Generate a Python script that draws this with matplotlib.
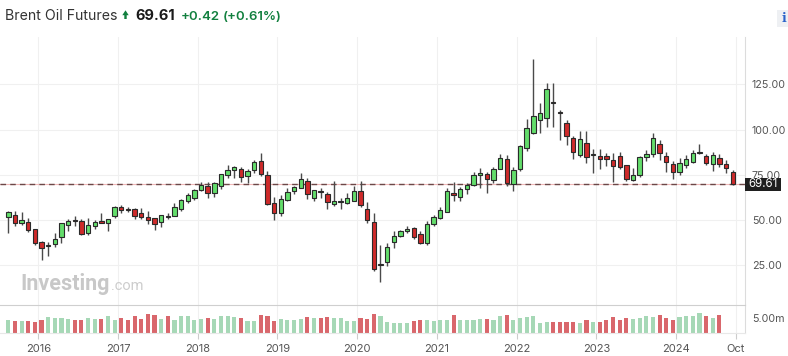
import matplotlib
matplotlib.use("Agg")
import matplotlib.pyplot as plt
import numpy as np
import pandas as pd
from matplotlib.patches import Rectangle, Polygon

# ---------------- data (monthly Brent candles, Aug 2015 - Sep 2024) ----------------
months = pd.date_range("2015-08-01", periods=110, freq="MS")

opens = [51.7, 52.6, 48.3, 49.0, 45.0, 37.5, 35.4, 36.7, 40.3, 47.0, 49.7, 49.6,
         43.0, 46.7, 49.6, 48.4, 52.0, 57.0, 55.9, 56.0, 53.7, 51.6, 51.0, 48.9,
         52.0, 52.2, 55.9, 60.5, 62.3, 66.4, 68.8, 65.1, 68.9, 74.7, 77.6, 78.2,
         74.3, 77.6, 82.6, 74.6, 59.6, 54.0, 61.1, 66.0, 67.8, 71.6, 62.0, 65.7,
         64.2, 58.7, 60.0, 59.2, 60.5, 66.2, 56.1, 48.7, 25.3, 26.6, 37.5, 41.3,
         43.6, 45.4, 42.0, 37.0, 47.8, 51.0, 54.6, 64.6, 62.8, 67.0, 69.3, 74.8,
         75.3, 71.8, 78.2, 83.5, 69.9, 78.1, 89.6, 98.2, 105.3, 106.2, 115.4, 109.8,
         103.7, 95.2, 85.9, 92.4, 86.0, 85.5, 85.4, 83.0, 85.5, 80.1, 72.0, 74.9,
         85.0, 86.4, 92.0, 85.3, 80.9, 76.6, 80.4, 82.2, 86.8, 85.3, 80.9, 84.1,
         80.9, 76.3]
highs = [55.0, 54.8, 54.4, 51.0, 45.2, 38.4, 37.6, 43.0, 48.5, 50.5, 52.2, 50.5,
         51.0, 49.9, 54.0, 50.5, 57.9, 58.4, 57.3, 56.8, 56.8, 55.0, 51.2, 52.9,
         53.7, 59.5, 61.7, 64.7, 67.1, 71.2, 70.8, 71.2, 75.5, 80.4, 80.0, 79.5,
         78.2, 83.3, 86.8, 77.0, 62.5, 63.8, 67.7, 68.7, 75.8, 73.2, 66.8, 67.5,
         65.3, 71.6, 62.3, 64.6, 68.8, 71.7, 60.1, 54.0, 36.0, 37.0, 43.6, 44.6,
         46.5, 46.0, 43.9, 49.2, 52.5, 57.4, 67.7, 71.2, 68.0, 70.3, 76.7, 78.5,
         76.4, 79.5, 86.5, 86.0, 79.0, 91.7, 105.6, 139.0, 114.8, 125.6, 125.6, 111.0,
         105.2, 96.4, 99.0, 99.2, 89.0, 89.0, 87.2, 87.0, 87.4, 80.5, 78.5, 85.2,
         88.7, 97.9, 94.2, 87.4, 82.6, 84.4, 85.9, 88.7, 92.0, 86.3, 87.7, 86.5,
         83.1, 77.6]
lows = [42.8, 46.6, 47.0, 43.5, 36.0, 27.9, 30.0, 35.0, 37.0, 43.9, 46.7, 41.5,
        41.6, 45.1, 48.0, 44.0, 51.0, 53.6, 54.5, 50.3, 50.6, 47.6, 44.5, 46.3,
        50.5, 52.0, 55.1, 59.5, 61.1, 66.1, 62.0, 62.5, 66.9, 73.4, 73.1, 71.2,
        70.6, 76.1, 74.4, 58.4, 50.0, 52.2, 60.6, 64.4, 67.7, 61.5, 60.5, 62.3,
        56.0, 57.7, 56.2, 59.0, 60.4, 57.3, 48.4, 21.6, 15.9, 24.3, 34.3, 40.5,
        43.0, 39.4, 36.6, 36.2, 46.5, 50.4, 54.4, 60.7, 60.3, 64.5, 69.0, 67.5,
        65.0, 70.6, 78.0, 68.6, 66.0, 77.1, 88.0, 97.4, 97.9, 101.6, 101.6, 94.2,
        91.4, 83.7, 85.0, 81.4, 75.8, 78.0, 79.7, 70.8, 78.0, 71.4, 71.6, 74.0,
        82.5, 84.7, 83.1, 76.6, 72.6, 74.8, 78.5, 81.3, 86.3, 80.4, 77.2, 79.1,
        75.8, 69.2]
closes = [54.4, 48.2, 49.9, 44.5, 37.3, 34.7, 35.9, 39.5, 48.3, 49.6, 49.3, 42.2,
          47.2, 49.0, 48.2, 50.5, 57.3, 55.6, 55.6, 52.3, 51.5, 50.0, 47.6, 52.6,
          51.8, 57.3, 61.0, 63.8, 66.6, 69.2, 65.1, 70.3, 75.2, 77.4, 79.1, 74.0,
          77.0, 82.2, 75.3, 58.8, 53.8, 61.4, 65.7, 68.1, 72.5, 64.5, 66.6, 65.5,
          60.1, 60.5, 60.3, 62.3, 66.0, 58.3, 50.0, 22.8, 25.7, 35.2, 41.2, 43.6,
          45.0, 40.8, 37.0, 47.7, 51.5, 55.5, 66.0, 64.0, 67.0, 69.3, 74.8, 75.8,
          72.5, 78.2, 84.1, 70.6, 77.6, 90.9, 100.7, 107.5, 109.0, 122.4, 114.5, 109.4,
          96.2, 87.4, 94.6, 85.0, 86.3, 83.9, 83.8, 79.7, 79.4, 72.7, 74.8, 85.0,
          86.5, 95.1, 86.9, 82.2, 76.6, 81.6, 83.8, 86.8, 87.7, 81.6, 85.9, 80.7,
          78.5, 69.61]
volumes_m = [4.22, 3.89, 4.11, 4.00, 3.78, 4.44, 5.33, 5.00, 5.00, 4.67, 4.44, 4.44,
             5.00, 4.78, 4.78, 5.56, 4.44, 5.00, 4.44, 5.56, 4.78, 6.44, 5.89, 4.67,
             5.56, 4.22, 5.78, 5.56, 4.44, 4.67, 5.00, 4.67, 5.56, 5.56, 5.33, 5.00,
             4.11, 4.11, 6.11, 5.56, 3.89, 4.67, 4.22, 4.22, 4.67, 5.33, 5.00, 5.00,
             5.33, 5.00, 5.00, 4.11, 3.89, 5.00, 4.78, 6.44, 5.78, 3.56, 3.33, 3.33,
             3.33, 3.89, 4.22, 4.22, 3.89, 4.44, 4.44, 5.89, 4.44, 4.44, 4.44, 4.78,
             4.67, 4.44, 5.56, 5.89, 4.44, 5.00, 5.33, 5.56, 3.33, 3.56, 3.56, 3.56,
             3.56, 3.56, 3.33, 4.22, 3.56, 3.56, 4.22, 5.33, 4.44, 5.00, 4.67, 5.00,
             5.56, 5.33, 6.11, 5.00, 4.22, 5.33, 5.56, 5.56, 6.60, 5.56, 5.00, 6.10,
             np.nan, np.nan]
last_price = 69.61
price_ticks = [25, 50, 75, 100, 125]
volume_ticks = [5]

# ---------------- figure ----------------
W, H = 788, 356
fig = plt.figure(figsize=(W / 100, H / 100), dpi=100)
fig.patch.set_facecolor("white")
FONT = ["Inter", "Roboto", "DejaVu Sans"]
plt.rcParams["font.family"] = FONT

def fx(px):
    return px / W

def fy(py):
    return 1 - py / H

ax = fig.add_axes([0, fy(305), fx(745), (305 - 37) / H])
axv = fig.add_axes([0, fy(333), fx(745), (333 - 305) / H], sharex=ax)

x = np.arange(len(months))
o = np.array(opens); h = np.array(highs); l = np.array(lows); c = np.array(closes)
up = c >= o

GREEN = "#63dd6b"
RED = "#cf2a2a"
EDGE = "#2a2a2a"

# wicks
ax.vlines(x, l, h, color="#4a4a4a", lw=1.0, zorder=2)
# bodies
bottom = np.minimum(o, c)
height = np.maximum(np.abs(c - o), 0.35)
ax.bar(x, height, bottom=bottom, width=0.66,
       color=np.where(up, GREEN, RED), edgecolor=EDGE, linewidth=0.8, zorder=3)

# last price dashed line
ax.axhline(last_price, color="#f0b8b8", lw=0.8, zorder=1.4)
ax.axhline(last_price, color="#6b4848", lw=1.0, ls=(0, (4, 3)), zorder=1.5)

ax.set_ylim(2.9, 151.2)
ax.set_xlim(-1.25, 110.85)

# year grid positions (start of January)
year_pos = [xi - 0.5 for xi, m in zip(x, months) if m.month == 1]
year_lab = [str(m.year) for m in months if m.month == 1]

ax.set_xticks(year_pos)
ax.set_yticks(price_ticks)
ax.set_yticklabels([f"{v:.2f}" for v in price_ticks])
ax.yaxis.tick_right()
ax.tick_params(axis="y", length=0, pad=5, labelsize=7.7, labelcolor="#555555")
ax.tick_params(axis="x", length=0, labelbottom=False)
ax.grid(True, color="#f0f0f0", lw=0.8, zorder=0)
ax.set_axisbelow(True)
for s in ["top", "left", "bottom"]:
    ax.spines[s].set_visible(False)
ax.spines["right"].set_color("#dcdcdc")

# volume
vol = np.array(volumes_m)
axv.bar(x, vol, width=0.62, color=np.where(up, "#a6d8b6", "#d9676c"), zorder=2)
axv.set_ylim(0, 9.33)
axv.set_yticks(volume_ticks)
axv.set_yticklabels([f"{v:.2f}m" for v in volume_ticks])
axv.yaxis.tick_right()
axv.tick_params(axis="y", length=0, pad=5, labelsize=7.7, labelcolor="#555555")
axv.set_xticks(year_pos + [len(months) - 0.5])
axv.set_xticklabels(year_lab + ["Oct"])
axv.tick_params(axis="x", length=4, color="#cccccc", pad=4, labelsize=8,
                labelcolor="#555555")
axv.grid(True, axis="x", color="#f0f0f0", lw=0.8, zorder=0)
axv.set_axisbelow(True)
axv.spines["left"].set_visible(False)
axv.spines["top"].set_color("#cfcfcf")
axv.spines["right"].set_color("#dcdcdc")
axv.spines["bottom"].set_color("#e8e8e8")

# last price box
fig.patches.append(Rectangle((fx(745), fy(190.5)), fx(36), 13 / H,
                             transform=fig.transFigure, facecolor="#1f1f1f",
                             edgecolor="none", zorder=5))
fig.text(fx(763), fy(184.3), f"{last_price:.2f}", ha="center", va="center",
         fontsize=8.3, color="white", zorder=6)

# header
fig.text(fx(5), fy(20.5), "Brent Oil Futures", fontsize=10.2, color="#333333",
         va="baseline")
arrow = Polygon([(fx(122.3), fy(15.2)), (fx(125.5), fy(10.3)), (fx(128.7), fy(15.2)),
                 (fx(126.7), fy(15.2)), (fx(126.7), fy(19.0)), (fx(124.3), fy(19.0)),
                 (fx(124.3), fy(15.2))], closed=True, transform=fig.transFigure,
                facecolor="#12803f", edgecolor="none")
fig.patches.append(arrow)
fig.text(fx(135), fy(20.5), "69.61", fontsize=10.5, weight="bold", color="#1a1a1a",
         va="baseline")
fig.text(fx(181), fy(20.5), "+0.42", fontsize=9.5, weight="semibold", color="#12803f",
         va="baseline")
fig.text(fx(223), fy(20.5), "(+0.61%)", fontsize=9.5, weight="semibold",
         color="#12803f", va="baseline")

# info icon (top right)
fig.patches.append(Rectangle((fx(777), fy(27)), fx(12), 17 / H,
                             transform=fig.transFigure, facecolor="#eef0f3",
                             edgecolor="none"))
fig.text(fx(783.5), fy(19), "i", fontsize=9, weight="bold", color="#2a62c9",
         ha="center", va="center", family="DejaVu Serif")

# watermark
fig.text(fx(20), fy(290), "Investing", fontsize=15.5, weight="bold", color="#c8c8c8",
         va="baseline", family=["Roboto", "DejaVu Sans"])
fig.text(fx(111), fy(290), ".com", fontsize=10.5, color="#cdcdcd", va="baseline",
         family=["Roboto", "DejaVu Sans"])

fig.savefig("out.png", dpi=100, facecolor="white")
